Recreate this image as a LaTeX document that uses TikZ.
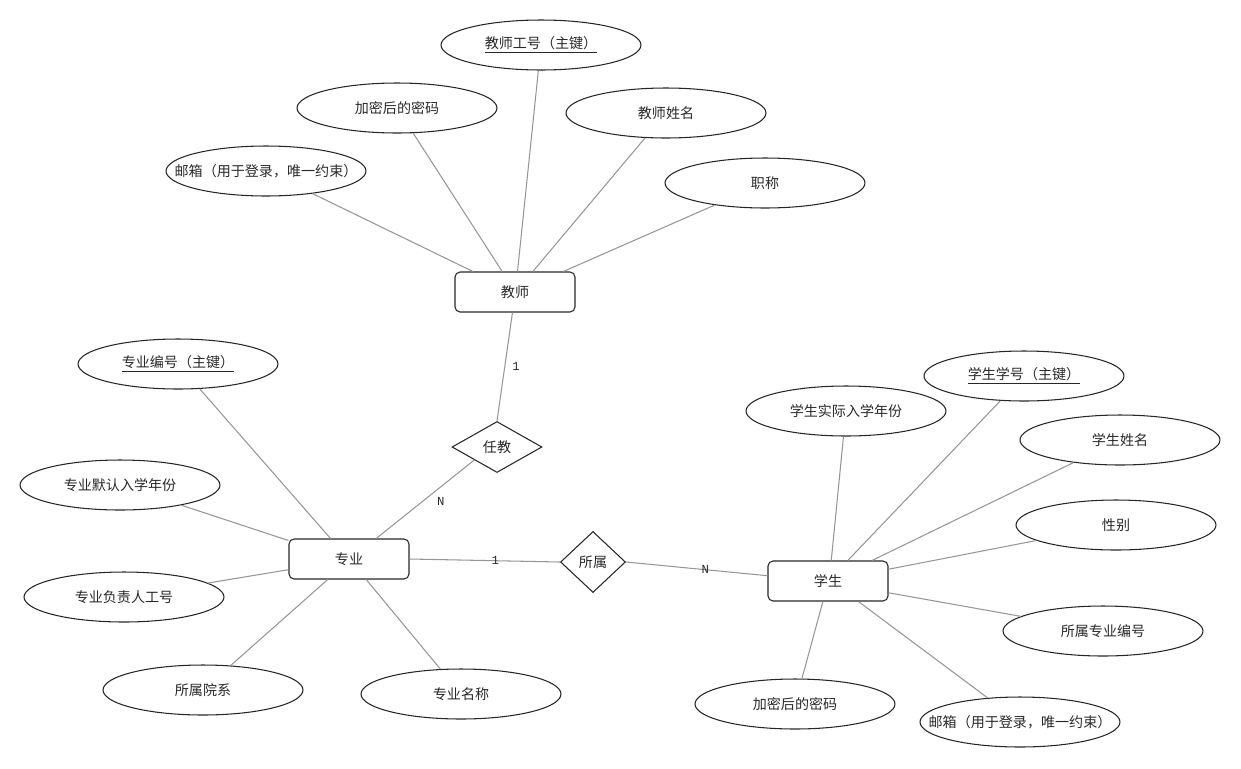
\documentclass[tikz,border=0pt]{standalone}
\usepackage{fontspec}
\setmainfont{Noto Sans CJK SC}
\newfontfamily\lblfont{Liberation Mono}
\usetikzlibrary{shapes.geometric}
\definecolor{edgegray}{RGB}{150,150,150}
\definecolor{textgray}{RGB}{40,40,40}
\begin{document}
\begin{tikzpicture}[x=0.02cm,y=-0.02cm,
		font=\fontsize{8pt}{9pt}\selectfont, text=textgray,
		attr/.style={draw=black!85, ellipse, line width=0.6pt, minimum width=4cm, minimum height=1cm, inner sep=0pt},
		entity/.style={draw=black!85, rectangle, rounded corners=0.1cm, line width=0.6pt, minimum width=2.4cm, minimum height=0.8cm, inner sep=0pt},
		rel/.style={draw=black!85, diamond, line width=0.6pt, inner sep=0pt},
		link/.style={draw=edgegray, line width=0.6pt},
		card/.style={font=\lblfont\fontsize{7pt}{8pt}\selectfont, inner sep=1pt}]
	\useasboundingbox (0, 0) rectangle (1241, 768);
	% teacher
	\node[entity] (teacher) at (515, 292) {教师};
	\node[attr] (tid) at (541, 45) {\underline{教师工号（主键）}};
	\node[attr] (tpwd) at (397, 108) {加密后的密码};
	\node[attr] (tname) at (666, 113) {教师姓名};
	\node[attr, label=center:{邮箱（用于登录，唯一约束）}] (tmail) at (266, 171) {};
	\node[attr] (ttitle) at (765, 183) {职称};
	\draw[link] (tmail) -- (teacher.154);
	\draw[link] (tpwd) -- (teacher.122);
	\draw[link] (tid) -- (teacher.83);
	\draw[link] (tname) -- (teacher.49);
	\draw[link] (ttitle) -- (teacher.23);
	% major
	\node[entity] (major) at (349, 559) {专业};
	\node[attr] (mid) at (178, 364) {\underline{专业编号（主键）}};
	\node[attr] (myear) at (120, 485) {专业默认入学年份};
	\node[attr] (mhead) at (124, 597) {专业负责人工号};
	\node[attr] (mdept) at (203, 690) {所属院系};
	\node[attr] (mname) at (461, 694) {专业名称};
	\draw[link] (mid) -- (major.132);
	\draw[link] (myear) -- (major.163);
	\draw[link] (mhead) -- (major.190);
	\draw[link] (mdept) -- (major.224);
	\draw[link] (mname) -- (major.310);
	% student
	\node[entity] (student) at (828, 581) {学生};
	\node[attr] (sid) at (1024, 376) {\underline{学生学号（主键）}};
	\node[attr] (syear) at (846, 411) {学生实际入学年份};
	\node[attr] (sname) at (1120, 440) {学生姓名};
	\node[attr] (ssex) at (1116, 525) {性别};
	\node[attr] (smajor) at (1103, 631) {所属专业编号};
	\node[attr] (spwd) at (795, 704) {加密后的密码};
	\node[attr, label=center:{邮箱（用于登录，唯一约束）}] (smail) at (1020, 722) {};
	\draw[link] (syear) -- (student.81);
	\draw[link] (sid) -- (student.46);
	\draw[link] (sname) -- (student.25);
	\draw[link] (ssex) -- (student.11);
	\draw[link] (smajor) -- (student.349);
	\draw[link] (spwd) -- (student.256);
	\draw[link] (smail) -- (student.326);
	% relations
	\node[rel, minimum width=1.8cm, minimum height=1.02cm] (teach) at (497, 447) {任教};
	\node[rel, minimum width=1.3cm, minimum height=1.22cm] (belong) at (593, 562) {所属};
	\draw[link] (teacher.263) -- node[card, pos=0.5, right=3pt] {1} (teach.north);
	\draw[link] (major.37) -- node[card, pos=0.58, below right=1pt] {N} (teach.south west);
	\draw[link] (major.east) -- node[card, pos=0.57] {1} (belong.west);
	\draw[link] (belong.east) -- node[card, pos=0.56] {N} (student.175);
\end{tikzpicture}
\end{document}
